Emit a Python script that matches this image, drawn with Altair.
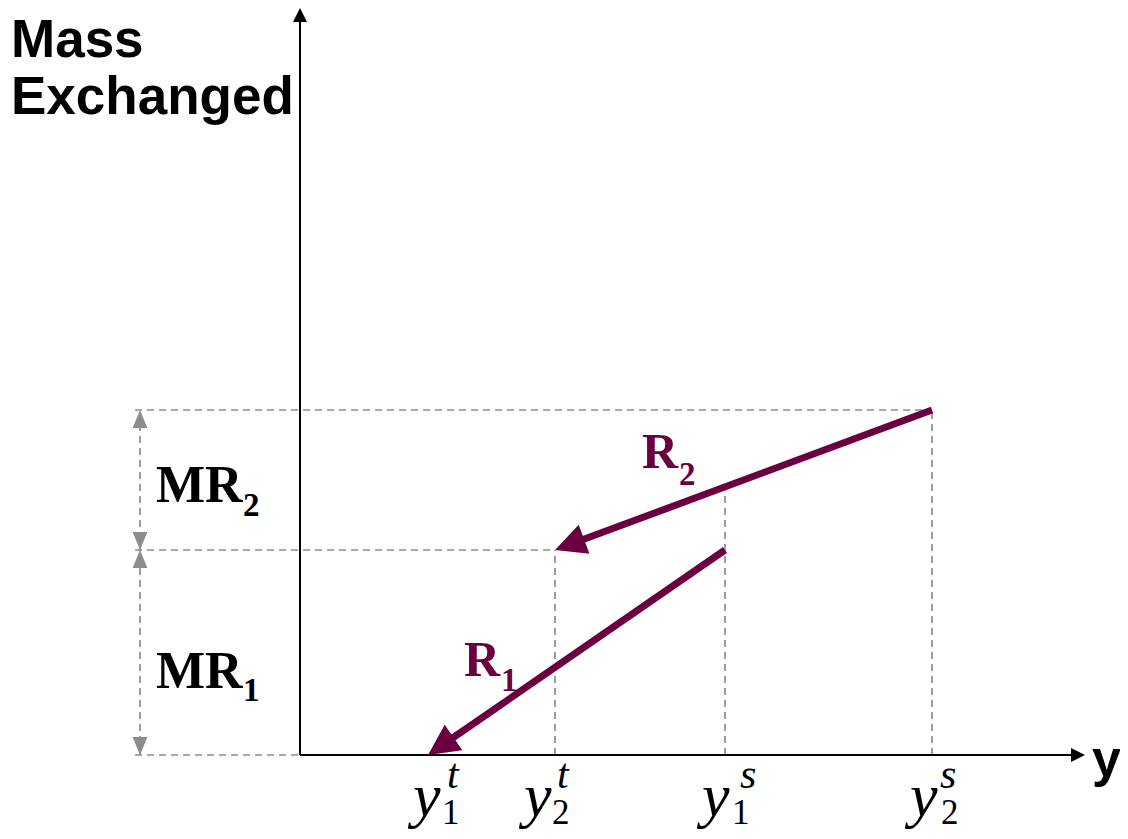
import math
import altair as alt
import pandas as pd

# ---------------- data ----------------
tick_names = ["y1t", "y2t", "y1s", "y2s"]
tick_pos = [128, 255, 425, 632]           # positions on the composition (y) axis
stream_names = ["R1", "R2"]
supply_comp = [425, 632]                  # y1s, y2s
target_comp = [128, 255]                  # y1t, y2t
mass_start = [205, 345]                   # cumulative mass exchanged at supply end
mass_end = [0, 205]                       # cumulative mass exchanged at target end
mr_levels = [0, 205, 345]                 # 0, MR1, MR1+MR2

# ---------------- layout ----------------
W, H = 1112, 823
XD = [-292, 820]
YD = [747 - H, 747]
px_x = W / (XD[1] - XD[0])
px_y = H / (YD[1] - YD[0])

MAROON = "#6B0040"
GRAY = "#8C8C8C"
ARROW = "M0,0 L-2,-1 L-2,1 Z"
ARROW_NARROW = "M0,0 L-2,-0.82 L-2,0.82 Z"


def X(f="x"):
    return alt.X(f"{f}:Q", scale=alt.Scale(domain=XD, nice=False, zero=False), axis=None)


def Y(f="y"):
    return alt.Y(f"{f}:Q", scale=alt.Scale(domain=YD, nice=False, zero=False), axis=None)


def screen_angle(dx, dy):
    a = math.degrees(math.atan2(-dy * px_y, dx * px_x))
    return a % 360


# ----- main R arrows -----
rows_line, rows_head = [], []
for name, xs, ys, xe, ye in zip(stream_names, supply_comp, mass_start, target_comp, mass_end):
    dx, dy = xe - xs, ye - ys
    L = math.hypot(dx * px_x, dy * px_y)
    short = 22.0 / L
    rows_line.append(dict(x=xs, y=ys, x2=xe - dx * short, y2=ye - dy * short))
    rows_head.append(dict(x=xe, y=ye, angle=screen_angle(dx, dy)))
r_lines = pd.DataFrame(rows_line)
r_heads = pd.DataFrame(rows_head)

# value of R2 at y1s
r2_at_y1s = mass_end[1] + (supply_comp[0] - target_comp[1]) / (supply_comp[1] - target_comp[1]) * (mass_start[1] - mass_end[1])

left_ext = -165
mr_x = -160
dashes = pd.DataFrame([
    dict(x=left_ext, y=mr_levels[2], x2=supply_comp[1], y2=mr_levels[2]),
    dict(x=left_ext, y=mr_levels[1], x2=target_comp[1], y2=mr_levels[1]),
    dict(x=left_ext, y=0, x2=0, y2=0),
    dict(x=target_comp[1], y=0, x2=target_comp[1], y2=mr_levels[1]),
    dict(x=supply_comp[0], y=0, x2=supply_comp[0], y2=r2_at_y1s),
    dict(x=supply_comp[1], y=0, x2=supply_comp[1], y2=mr_levels[2]),
    dict(x=mr_x, y=0, x2=mr_x, y2=mr_levels[2]),
])
gray_heads = pd.DataFrame([
    dict(x=mr_x, y=mr_levels[2], angle=270),
    dict(x=mr_x, y=mr_levels[1], angle=90),
    dict(x=mr_x, y=mr_levels[1], angle=270),
    dict(x=mr_x, y=0, angle=90),
])

# ----- axes -----
y_tip, x_tip = 747, 785
axes_lines = pd.DataFrame([
    dict(x=0, y=0, x2=0, y2=y_tip - 12),
    dict(x=0, y=0, x2=x_tip - 12, y2=0),
])
axes_heads = pd.DataFrame([
    dict(x=0, y=y_tip, angle=270),
    dict(x=x_tip, y=0, angle=0),
])

# ----- texts -----
sans_bold = pd.DataFrame([
    dict(text="Mass", x=-289, y=698, size=53),
    dict(text="Exchanged", x=-289, y=641, size=53),
    dict(text="y", x=792, y=-21, size=52),
])
serif_bold = pd.DataFrame([
    dict(text="MR", x=-144, y=253, size=52, color="#000000"),
    dict(text="2", x=-57, y=239, size=33, color="#000000"),
    dict(text="MR", x=-144, y=67, size=52, color="#000000"),
    dict(text="1", x=-57, y=54, size=33, color="#000000"),
    dict(text="R", x=342, y=287, size=50, color=MAROON),
    dict(text="2", x=379, y=270, size=33, color=MAROON),
    dict(text="R", x=164, y=79, size=50, color=MAROON),
    dict(text="1", x=201, y=64, size=33, color=MAROON),
])
lab_main_x = [113, 224, 402, 610]
lab_sub_x = [142, 252, 432, 641]
lab_sup_x = [147, 257, 440, 640]
lab_sub = ["1", "2", "1", "2"]
lab_sup = ["t", "t", "s", "s"]
serif_italic = pd.DataFrame(
    [dict(text="y", x=mx, y=-61, size=62) for mx in lab_main_x]
    + [dict(text=s, x=sx, y=-33, size=42) for s, sx in zip(lab_sup, lab_sup_x)]
)
serif_reg = pd.DataFrame([dict(text=s, x=sx, y=-69, size=35) for s, sx in zip(lab_sub, lab_sub_x)])


def rules(df, color, width, dash=None):
    kw = dict(color=color, strokeWidth=width, strokeCap="butt")
    if dash:
        kw["strokeDash"] = dash
    return alt.Chart(df).mark_rule(**kw).encode(x=X(), y=Y(), x2="x2:Q", y2="y2:Q")


def heads(df, color, size, path):
    return alt.Chart(df).mark_point(shape=path, filled=True, opacity=1, strokeWidth=0, color=color, size=size).encode(
        x=X(), y=Y(), angle=alt.Angle("angle:Q", scale=None)
    )


def texts(df, font, weight, style, color=None):
    kw = dict(font=font, fontWeight=weight, fontStyle=style, align="left", baseline="alphabetic")
    enc = dict(x=X(), y=Y(), text="text:N", size=alt.Size("size:Q", scale=None))
    if color is None:
        enc["color"] = alt.Color("color:N", scale=None)
    else:
        kw["color"] = color
    return alt.Chart(df).mark_text(**kw).encode(**enc)


chart = alt.layer(
    rules(dashes, GRAY, 1.7, [7, 5]),
    heads(gray_heads, GRAY, 324, ARROW_NARROW),
    rules(axes_lines, "#000000", 2),
    heads(axes_heads, "#000000", 196, ARROW),
    rules(r_lines, MAROON, 7),
    heads(r_heads, MAROON, 961, ARROW),
    texts(sans_bold, "Liberation Sans", "bold", "normal", "#000000"),
    texts(serif_bold, "Liberation Serif", "bold", "normal"),
    texts(serif_italic, "Liberation Serif", "normal", "italic", "#000000"),
    texts(serif_reg, "Liberation Serif", "normal", "normal", "#000000"),
).properties(
    width=W, height=H, autosize=alt.AutoSizeParams(type="none"), padding=0
).configure_view(stroke=None)

chart.save("out.html", embed_options={"renderer": "svg", "actions": False})
